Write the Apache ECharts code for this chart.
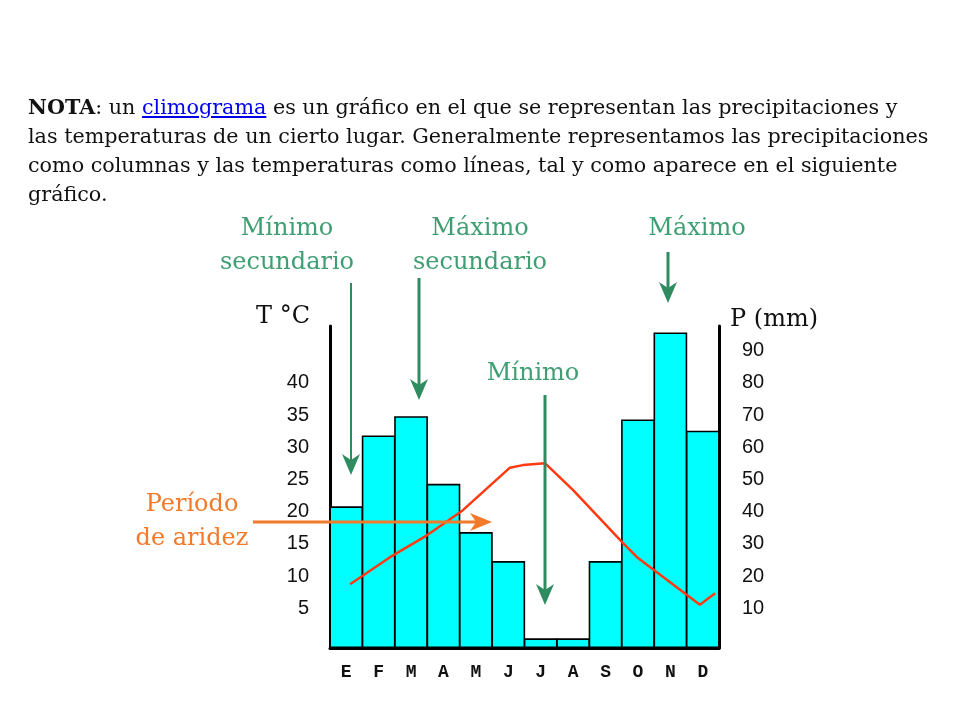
<!DOCTYPE html>
<html>
<head>
<meta charset="utf-8">
<script src="https://cdn.jsdelivr.net/npm/echarts/dist/echarts.min.js"></script>
<style>
    body { margin: 0; background: #fff; }
    #chart { position: absolute; left: 0; top: 0; width: 960px; height: 720px; }
    #nota {
        position: absolute; left: 28px; top: 93px;
        font-family: 'DejaVu Serif', serif; font-size: 20.7px; line-height: 29px;
        color: #111; white-space: nowrap;
    }
    #nota a { color: #0000ee; text-decoration: underline; }
</style>
</head>
<body>
<div id="chart"></div>
<div id="nota"><b>NOTA</b>: un <a href="#">climograma</a> es un gráfico en el que se representan las precipitaciones y<br>las temperaturas de un cierto lugar. Generalmente representamos las precipitaciones<br>como columnas y las temperaturas como líneas, tal y como aparece en el siguiente<br>gráfico.</div>
<script>
// meses (iniciales)
var months = ['E', 'F', 'M', 'A', 'M', 'J', 'J', 'A', 'S', 'O', 'N', 'D'];
// precipitaciones en mm (columnas)
var precip = [44, 66, 72, 51, 36, 27, 3, 3, 27, 71, 98, 67.5];
// temperatura: posicion en meses y valor en °C (linea)
var tempMonth = [0.62, 1.85, 2.99, 4.10, 5.55, 5.95, 6.63, 7.50, 9.04, 9.47, 11.41, 11.88];
var tempValue = [9.9, 14.1, 17.5, 21.4, 28.0, 28.4, 28.7, 24.5, 16.3, 14.1, 6.7, 8.5];
// etiquetas de los ejes
var tempTicks = [5, 10, 15, 20, 25, 30, 35, 40];
var precipTicks = [10, 20, 30, 40, 50, 60, 70, 80, 90];

var tempData = [];
for (var i = 0; i < tempMonth.length; i++) {
    tempData.push([tempMonth[i], tempValue[i]]);
}

var green = '#3f9e72';
var greenArrow = '#2f8c60';
var orange = '#f27a2a';

// flecha vertical hacia abajo
function arrowDown(x, y1, y2, w, color) {
    return [
        { type: 'line', z: 100, shape: { x1: x, y1: y1, x2: x, y2: y2 - 14 }, style: { stroke: color, lineWidth: w } },
        { type: 'polygon', z: 100, shape: { points: [[x - 9, y2 - 21], [x, y2 - 15], [x + 9, y2 - 21], [x, y2]] }, style: { fill: color } }
    ];
}

function label(text, x, y, color) {
    return {
        type: 'text', z: 100, x: x, y: y,
        style: { text: text, fill: color, font: '24px "DejaVu Serif"', align: 'center', verticalAlign: 'middle', lineHeight: 34 }
    };
}

var graphics = [];
graphics.push(label('Mínimo\nsecundario', 287, 246, green));
graphics.push(label('Máximo\nsecundario', 480, 246, green));
graphics.push(label('Máximo', 697, 229, green));
graphics.push(label('Mínimo', 533, 374, green));
graphics.push(label('Período\nde aridez', 192, 522, orange));
graphics = graphics.concat(arrowDown(351, 283, 475, 2, greenArrow));
graphics = graphics.concat(arrowDown(419, 278, 400, 3, greenArrow));
graphics = graphics.concat(arrowDown(668, 252, 303, 3, greenArrow));
graphics = graphics.concat(arrowDown(545, 395, 605, 3, greenArrow));
// flecha del periodo de aridez
graphics.push({ type: 'line', z: 100, shape: { x1: 253, y1: 522, x2: 478, y2: 522 }, style: { stroke: orange, lineWidth: 3 } });
graphics.push({ type: 'polygon', z: 100, shape: { points: [[470, 513], [476, 522], [470, 531], [492, 522]] }, style: { fill: orange } });
// titulos de los ejes
graphics.push({ type: 'text', x: 283, y: 317, style: { text: 'T °C', fill: '#111', font: '24px "DejaVu Serif"', align: 'center', verticalAlign: 'middle' } });
graphics.push({ type: 'text', x: 730, y: 320, style: { text: 'P (mm)', fill: '#111', font: '24px "DejaVu Serif"', align: 'left', verticalAlign: 'middle' } });

var mychart = echarts.init(document.getElementById('chart'));
var option = {
    animation: false,
    grid: { left: 330, right: 241, top: 326, bottom: 72 },
    xAxis: [
        {
            type: 'category',
            data: months,
            axisLine: { lineStyle: { color: '#000', width: 3 } },
            axisTick: { show: false },
            axisLabel: {
                margin: 15, color: '#111', interval: 0,
                fontFamily: 'Liberation Mono', fontWeight: 'bold', fontSize: 18
            },
            splitLine: { show: false }
        },
        {
            type: 'value', min: 0, max: 12, show: false
        }
    ],
    yAxis: [
        {
            type: 'value', min: 0, max: 50, interval: 5,
            axisLine: { show: true, lineStyle: { color: '#000', width: 3 } },
            axisTick: { show: false },
            splitLine: { show: false },
            axisLabel: {
                margin: 21, color: '#111', fontFamily: 'Liberation Sans', fontSize: 20,
                verticalAlign: 'bottom', lineHeight: 15,
                formatter: function (v) { return tempTicks.indexOf(v) >= 0 ? String(v) : ''; }
            }
        },
        {
            type: 'value', min: 0, max: 100, interval: 10, position: 'right',
            axisLine: { show: true, lineStyle: { color: '#000', width: 3 } },
            axisTick: { show: false },
            splitLine: { show: false },
            axisLabel: {
                margin: 23, color: '#111', fontFamily: 'Liberation Sans', fontSize: 20,
                verticalAlign: 'bottom', lineHeight: 15,
                formatter: function (v) { return precipTicks.indexOf(v) >= 0 ? String(v) : ''; }
            }
        }
    ],
    series: [
        {
            name: 'P (mm)',
            type: 'bar',
            xAxisIndex: 0,
            yAxisIndex: 1,
            barWidth: '104%',
            itemStyle: { color: '#00ffff', borderColor: '#000', borderWidth: 1.6 },
            data: precip
        },
        {
            name: 'T °C',
            type: 'line',
            xAxisIndex: 1,
            yAxisIndex: 0,
            symbol: 'none',
            lineStyle: { color: '#ff3a10', width: 2.5 },
            data: tempData
        }
    ],
    graphic: graphics
};
mychart.setOption(option);
</script>
</body>
</html>
